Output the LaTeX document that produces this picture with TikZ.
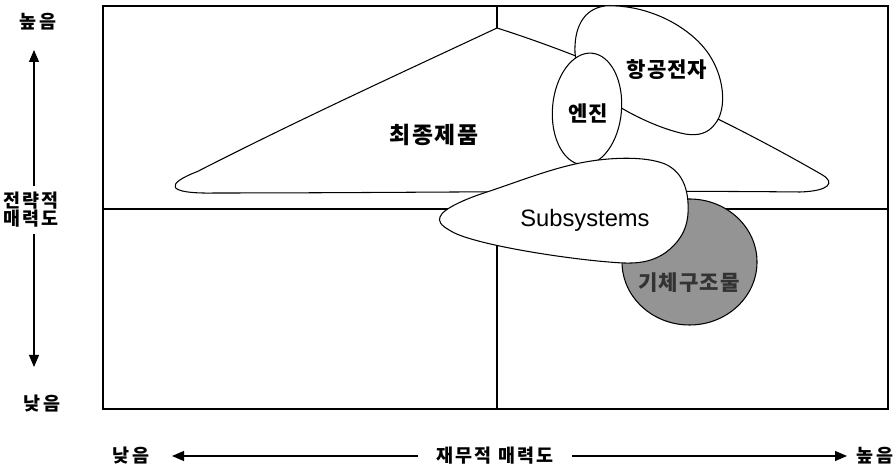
\documentclass[tikz,border=0pt]{standalone}
\usepackage{fontspec}
\usepackage{tikz}
\usetikzlibrary{arrows.meta}
\newfontfamily\kr{Noto Sans CJK KR}
\newfontfamily\lat{Liberation Sans}

\begin{document}
\begin{tikzpicture}[
    lbl/.style={font=\kr\bfseries\fontsize{12}{14}\selectfont\addfontfeature{LetterSpace=5}},
    ax/.style={font=\kr\bfseries\fontsize{10.5}{10.2}\selectfont\addfontfeature{LetterSpace=12}},
    blob/.style={draw=black, fill=white, line width=0.6pt},
    arr/.style={-{Triangle[length=2.4mm,width=2mm]}, black, line width=0.6pt}]
    \useasboundingbox (0,0) rectangle (17.88,9.48);

    \draw[line width=0.6pt] (2.06,1.30) rectangle (17.76,9.36);
    \draw[line width=0.6pt] (2.06,5.30) -- (17.76,5.30);
    \draw[line width=0.6pt] (9.94,1.30) -- (9.94,9.36);

    \filldraw[blob] (9.94,8.92) .. controls (12.2,8.2) and (14.6,7.05) .. (16.45,5.98)
        .. controls (16.7,5.83) and (16.6,5.66) .. (16.0,5.64)
        .. controls (12,5.68) and (8,5.62) .. (4.3,5.62)
        .. controls (3.3,5.6) and (3.3,5.8) .. (3.95,6.05)
        .. controls (6,7.1) and (8.3,8.15) .. (9.94,8.92) -- cycle;
    \filldraw[blob] (11.5,8.42) .. controls (11.48,8.9) and (11.65,9.3) .. (12.1,9.36)
        .. controls (12.9,9.4) and (13.7,9.0) .. (14.1,8.5)
        .. controls (14.5,8.0) and (14.55,7.3) .. (14.3,7.0)
        .. controls (14.15,6.8) and (13.95,6.76) .. (13.7,6.8)
        .. controls (13.2,6.9) and (12.6,7.2) .. (12.3,7.4)
        .. controls (11.9,7.7) and (11.52,8.1) .. (11.5,8.42) -- cycle;
    \filldraw[blob, rotate around={-5:(11.74,7.30)}] (11.74,7.30) ellipse [x radius=0.69, y radius=1.12];
    \filldraw[draw=black, fill=black!42, line width=0.6pt] (13.79,4.24) ellipse [x radius=1.35, y radius=1.26];
    \filldraw[blob] (8.8,5.14) .. controls (8.85,5.3) and (9.3,5.5) .. (9.74,5.64)
        .. controls (10.4,5.86) and (11.0,6.1) .. (11.6,6.22)
        .. controls (12.2,6.34) and (12.9,6.36) .. (13.3,6.2)
        .. controls (13.7,6.02) and (13.78,5.6) .. (13.76,5.22)
        .. controls (13.74,4.85) and (13.55,4.6) .. (13.3,4.42)
        .. controls (13.0,4.22) and (12.7,4.2) .. (12.3,4.23)
        .. controls (11.3,4.3) and (9.4,4.6) .. (9.0,4.87)
        .. controls (8.8,4.98) and (8.77,5.06) .. (8.8,5.14) -- cycle;

    \node[lbl, font=\kr\bfseries\fontsize{13}{15}\selectfont\addfontfeature{LetterSpace=8}] (1) at (8.68,6.78) {최종제품};
    \node[lbl] (2) at (11.76,7.22) {엔진};
    \node[lbl] (3) at (13.34,8.08) {항공전자};
    \node[font=\lat\fontsize{13.5}{15}\selectfont] (4) at (11.7,5.08) {Subsystems};
    \node[lbl, text=black!80] (5) at (13.78,3.82) {기체구조물};

    \node[ax] (6) at (0.76,9.04) {높음};
    \node[ax, align=center] (7) at (0.62,5.28) {전략적\\매력도};
    \node[ax] (8) at (0.84,1.40) {낮음};
    \node[ax] (9) at (2.62,0.36) {낮음};
    \node[ax] (10) at (9.9,0.36) {재무적 매력도};
    \node[ax] (11) at (17.5,0.36) {높음};
    \coordinate (up) at (0.68,8.48);
    \coordinate (down) at (0.68,2.14);
    \coordinate (left) at (3.44,0.36);
    \coordinate (right) at (16.94,0.36);

    \draw[arr] (7.north -| up) -- (up);
    \draw[arr] (7.south -| down) -- (down);
    \draw[arr, shorten <=2.5mm] (10.west) -- (left);
    \draw[arr, shorten <=2.5mm] (10.east) -- (right);
\end{tikzpicture}
\end{document}
